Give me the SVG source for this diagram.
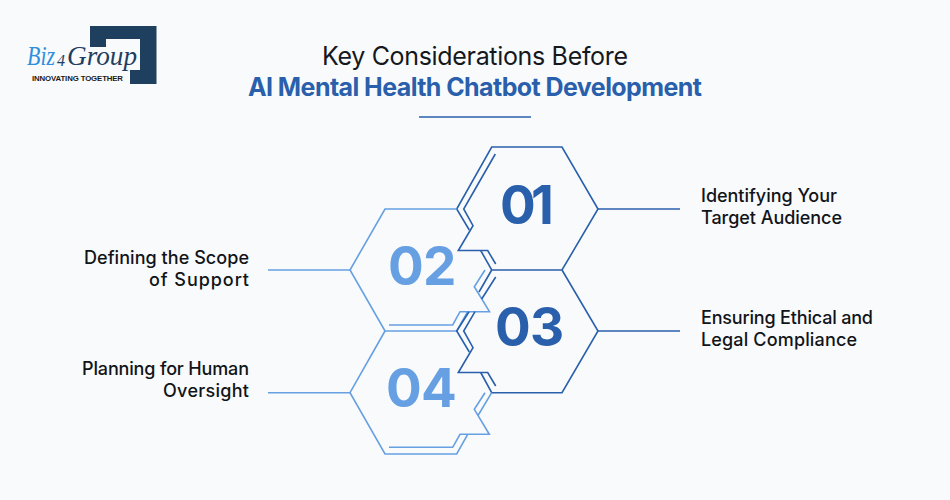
<svg xmlns="http://www.w3.org/2000/svg" width="950" height="500" viewBox="0 0 950 500">
<style>
.bg{fill:#f8fafc}
.d,.l{fill:none;stroke-width:1.6;stroke-linejoin:miter}
.d{stroke:#2a5fac}
.l{stroke:#66a0e2}
.num{font-family:Inter,"Liberation Sans",sans-serif;font-weight:700;font-size:53px}
.lab{font-family:Inter,"Liberation Sans",sans-serif;font-weight:500;font-size:18px;fill:#111418}
.t{font-family:Inter,"Liberation Sans",sans-serif;font-size:25px;text-anchor:middle}
</style>
<rect class="bg" width="950" height="500"/>
<g id="logo">
<path d="M90 26H156.500V84H130V70H140V39H106V47H90Z" fill="#1f3f5f"/>
<text x="27" y="65" font-family="'Liberation Serif',serif" font-style="italic" font-size="27" fill="#2f8fdc" textLength="28" lengthAdjust="spacingAndGlyphs">Biz</text>
<text x="57" y="66" font-family="'Liberation Serif',serif" font-style="italic" font-size="16" fill="#1f3f5f">4</text>
<text x="67" y="65" font-family="'Liberation Serif',serif" font-style="italic" font-size="27" fill="#1f3f5f" textLength="70" lengthAdjust="spacingAndGlyphs">Group</text>
<text x="32" y="81" font-family="'Liberation Sans',sans-serif" font-weight="700" font-size="7.800" fill="#1a1a1a" textLength="91">INNOVATING TOGETHER</text>
</g>
<g id="title">
<text class="t" x="475" y="65" fill="#15181c" textLength="306">Key Considerations Before</text>
<text class="t" x="475" y="96" fill="#2a5fac" font-weight="700" textLength="454">AI Mental Health Chatbot Development</text>
<path d="M419 117H531" class="d"/>
</g>
<g id="connectors">
<path class="d" d="M598 209H680M598 331H680"/>
<path class="l" d="M268 270H350M268 392.700H350"/>
</g>
<g id="node-01">
<path class="d" d="M469.300 230L456.700 209L491.700 147H562L598 209L562 270H491.700L480.700 250.500"/>
<path class="d" d="M495.300 154L463.700 209L473 225.700L458.300 250.500H487.700L495.700 264"/>
<text class="num" x="500 531" y="224" fill="#2a5fac">01</text>
<text class="lab" x="701" y="202" textLength="136">Identifying Your</text>
<text class="lab" x="701" y="224" textLength="141">Target Audience</text>
</g>
<g id="node-02">
<path class="l" d="M456.700 209H385L350 270L385 331H456.700L467.700 311.700"/>
<path class="l" d="M485 270L474.300 286.700L489.500 311.700H460L452.700 325H389"/>
<text class="num" x="388 423" y="285" fill="#66a0e2">02</text>
<text class="lab" x="249" y="264" text-anchor="end" textLength="165">Defining the Scope</text>
<text class="lab" x="249" y="286" text-anchor="end" textLength="100">of Support</text>
</g>
<g id="node-03">
<path class="d" d="M491.700 270L479 292M475 311.700L463.700 331L473 347.700L458.300 372.500H487.700L495.700 386"/>
<path class="d" d="M495.700 277L481.700 299M469 311.700L456.700 331L469.300 352M480.700 372.500L491.700 392.700H562L598 331L562 270"/>
<text class="num" x="495 530" y="346" fill="#2a5fac">03</text>
<text class="lab" x="701" y="324" textLength="172">Ensuring Ethical and</text>
<text class="lab" x="701" y="346" textLength="156">Legal Compliance</text>
</g>
<g id="node-04">
<path class="l" d="M385 331L350 392.700L385 454H456.700L467.700 434.300"/>
<path class="l" d="M491.700 392.700L478.300 415M485 392.700L474.300 409.300L489.300 434.300H460L452.700 447.300H389"/>
<text class="num" x="386 421" y="407" fill="#66a0e2">04</text>
<text class="lab" x="249" y="375" text-anchor="end" textLength="167">Planning for Human</text>
<text class="lab" x="249" y="397" text-anchor="end" textLength="86">Oversight</text>
</g>
</svg>
